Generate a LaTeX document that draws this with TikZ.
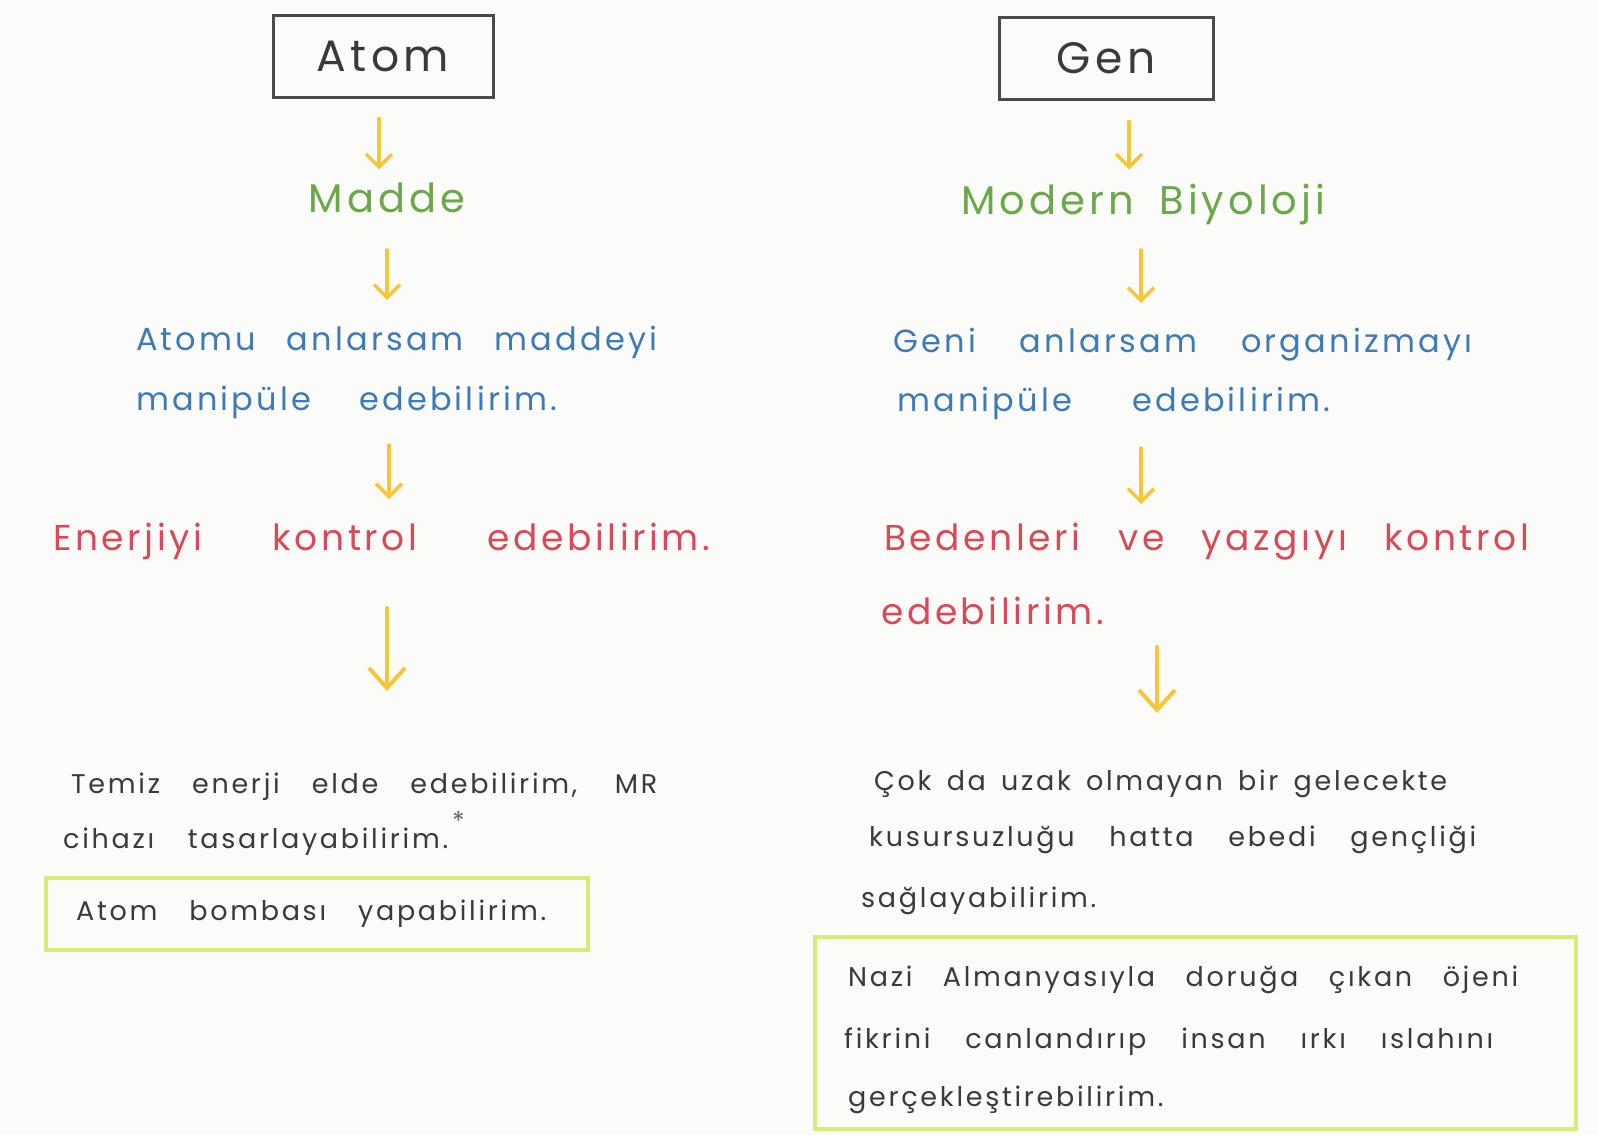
\documentclass[tikz,border=0pt]{standalone}
\usepackage{fontspec}
\setmainfont{Poppins}[LetterSpace=10]
\usetikzlibrary{arrows.meta}
\definecolor{paper}{HTML}{FBFBF9}
\definecolor{mgreen}{HTML}{6BA84A}
\definecolor{hblue}{HTML}{3E7AB8}
\definecolor{hred}{HTML}{D84A58}
\definecolor{ayellow}{HTML}{F6C53A}
\definecolor{boxgray}{HTML}{4A4A4A}
\definecolor{gboxcol}{HTML}{D8EA78}
\definecolor{pencil}{HTML}{3A3A3A}
\newcommand{\spreadline}[2]{\makebox[#1][s]{#2}}
\begin{document}
\begin{tikzpicture}[x=1pt,y=-1pt,
  titlebox/.style={draw=boxgray, line width=3pt, inner sep=0pt, text=pencil,
    font=\fontsize{44}{44}\selectfont},
  txt/.style={anchor=base west, inner sep=0pt},
  headtxt/.style={txt, text=mgreen, font=\fontsize{40}{40}\selectfont},
  bluetxt/.style={txt, text=hblue, font=\fontsize{32}{32}\selectfont},
  redtxt/.style={txt, text=hred, font=\fontsize{36}{36}\selectfont},
  blacktxt/.style={txt, text=pencil, font=\fontsize{27}{27}\selectfont},
  gbox/.style={draw=gboxcol, line width=4.5pt, inner sep=0pt},
  yarr/.style={draw=ayellow, line width=3.5pt, line cap=round,
    -{Straight Barb[length=13pt,width=26pt]}},
  yarrbig/.style={draw=ayellow, line width=4pt, line cap=round,
    -{Straight Barb[length=20pt,width=36pt]}}
]
\fill[paper] (0,0) rectangle (1598,1135);
\useasboundingbox (0,0) rectangle (1598,1135);

% ---------- left column ----------
\node[titlebox, minimum width=220pt, minimum height=82pt] (atom) at (383,56) {Atom};
\node[headtxt, anchor=base] (madde) at (387,212) {Madde};
\node[bluetxt] (l1a) at (136,350) {\spreadline{521pt}{Atomu anlarsam maddeyi}};
\node[bluetxt] (l1b) at (136,410) {\spreadline{421pt}{manipüle edebilirim.}};
\node[redtxt] (l2) at (53,550) {\spreadline{657pt}{Enerjiyi kontrol edebilirim.}};
\node[blacktxt] (l3a) at (71,793) {\spreadline{586pt}{Temiz enerji elde edebilirim, MR}};
\node[blacktxt] (l3b) at (63,848) {\spreadline{385pt}{cihazı tasarlayabilirim.}};
\node[txt, text=gray!80!black, font=\fontsize{26}{26}\selectfont] (star) at (452,830) {*};
\node[gbox, minimum width=542pt, minimum height=72pt] (lbox) at (317,914) {};
\node[blacktxt] (l4) at (76,920) {\spreadline{470pt}{Atom bombası yapabilirim.}};

\draw[yarr] (atom.south) ++(-4,20) -- ++(0,51);
\draw[yarr] (madde.base) ++(0,38) -- ++(0,50);
\draw[yarr] (l1b.base west) ++(253,35) -- ++(0,54);
\draw[yarrbig] (l2.base west) ++(334,58) -- ++(0,83);

% ---------- right column ----------
\node[titlebox, minimum width=214pt, minimum height=82pt] (gen) at (1106,58) {Gen};
\node[headtxt] (modern) at (961,214) {\spreadline{364pt}{Modern Biyoloji}};
\node[bluetxt] (r1a) at (893,352) {\spreadline{579pt}{Geni anlarsam organizmayı}};
\node[bluetxt] (r1b) at (897,411) {\spreadline{433pt}{manipüle edebilirim.}};
\node[redtxt] (r2a) at (884,550) {\spreadline{645pt}{Bedenleri ve yazgıyı kontrol}};
\node[redtxt] (r2b) at (881,624) {edebilirim.};
\node[blacktxt] (r3a) at (874,790) {\spreadline{573pt}{Çok da uzak olmayan bir gelecekte}};
\node[blacktxt] (r3b) at (869,846) {\spreadline{607pt}{kusursuzluğu hatta ebedi gençliği}};
\node[blacktxt] (r3c) at (861,907) {sağlayabilirim.};
\node[gbox, minimum width=761pt, minimum height=192pt] (rbox) at (1195.5,1033) {};
\node[blacktxt] (r4a) at (848,986) {\spreadline{670pt}{Nazi Almanyasıyla doruğa çıkan öjeni}};
\node[blacktxt] (r4b) at (844,1048) {\spreadline{649pt}{fikrini canlandırıp insan ırkı ıslahını}};
\node[blacktxt] (r4c) at (848,1106) {gerçekleştirebilirim.};

\draw[yarr] (gen.south) ++(23,21) -- ++(0,48);
\draw[yarr] (modern.base west) ++(180,36) -- ++(0,53);
\draw[yarr] (r1b.base west) ++(244,37) -- ++(0,56);
\draw[yarrbig] (r2b.base west) ++(276,23) -- ++(0,66);
\end{tikzpicture}
\end{document}
